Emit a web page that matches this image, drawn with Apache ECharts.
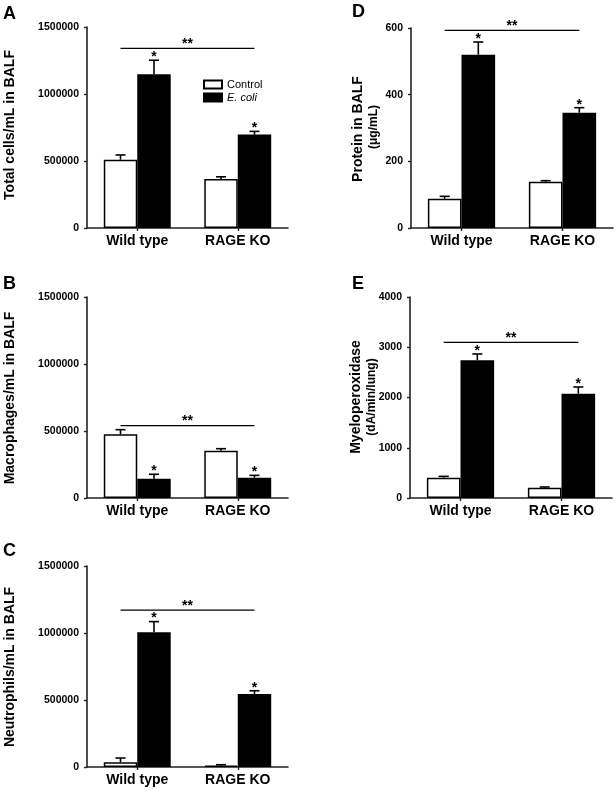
<!DOCTYPE html>
<html><head><meta charset="utf-8">
<script src="https://cdn.jsdelivr.net/npm/echarts@6/dist/echarts.min.js"></script>
<style>html,body{margin:0;padding:0;background:#fff}#c{width:616px;height:791px}</style>
</head><body><div id="c"></div>
<script>
const categories = ['Wild type', 'RAGE KO'];

// Panel A: Total cells/mL in BALF
const aControl = [510000, 365000];
const aControlErr = [545000, 382000];
const aEcoli = [1148000, 697000];
const aEcoliErr = [1252000, 721000];
const aSig = 1340000;

// Panel B: Macrophages/mL in BALF
const bControl = [475000, 353000];
const bControlErr = [510000, 368000];
const bEcoli = [144000, 152000];
const bEcoliErr = [177000, 169000];
const bSig = 540000;

// Panel C: Neutrophils/mL in BALF
const cControl = [35000, 10000];
const cControlErr = [67000, 17000];
const cEcoli = [1006000, 544000];
const cEcoliErr = [1085000, 569000];
const cSig = 1170000;

// Panel D: Protein in BALF (ug/mL)
const dControl = [88, 139];
const dControlErr = [95, 142];
const dEcoli = [520, 346];
const dEcoliErr = [558, 361];
const dSig = 593;

// Panel E: Myeloperoxidase (dA/min/lung)
const eControl = [405, 206];
const eControlErr = [431, 219];
const eEcoli = [2740, 2076];
const eEcoliErr = [2866, 2209];
const eSig = 3098;

const cellTicks = [0, 500000, 1000000, 1500000];
const proteinTicks = [0, 200, 400, 600];
const mpoTicks = [0, 1000, 2000, 3000, 4000];

const FONT = 'Liberation Sans, Arial, Helvetica, sans-serif';
const BAR_FRAC = 0.333;

const panels = [
  {ctrl: aControl, ctrlErr: aControlErr, eco: aEcoli, ecoErr: aEcoliErr, sig: aSig, ticks: cellTicks,
   grid: {left: 87, top: 27, width: 201, height: 201}},
  {ctrl: bControl, ctrlErr: bControlErr, eco: bEcoli, ecoErr: bEcoliErr, sig: bSig, ticks: cellTicks,
   grid: {left: 87, top: 297, width: 201, height: 201}},
  {ctrl: cControl, ctrlErr: cControlErr, eco: cEcoli, ecoErr: cEcoliErr, sig: cSig, ticks: cellTicks,
   grid: {left: 87, top: 566, width: 201, height: 201}},
  {ctrl: dControl, ctrlErr: dControlErr, eco: dEcoli, ecoErr: dEcoliErr, sig: dSig, ticks: proteinTicks,
   grid: {left: 411, top: 28, width: 202, height: 200}},
  {ctrl: eControl, ctrlErr: eControlErr, eco: eEcoli, ecoErr: eEcoliErr, sig: eSig, ticks: mpoTicks,
   grid: {left: 410, top: 297, width: 202, height: 201}}
];

function errRender(side, star) {
  return function (params, api) {
    const idx = api.value(0);
    const x = api.coord([idx, 0])[0];
    const band = api.size([1, 0])[0];
    const bw = band * BAR_FRAC;
    const cx = x + side * bw / 2;
    const yTop = api.coord([idx, api.value(1)])[1];
    const yErr = api.coord([idx, api.value(2)])[1];
    const cap = bw * 0.3;
    const children = [
      {type: 'line', shape: {x1: cx, y1: yTop, x2: cx, y2: yErr}, style: {stroke: '#000', lineWidth: 1.6}},
      {type: 'line', shape: {x1: cx - cap / 2, y1: yErr, x2: cx + cap / 2, y2: yErr}, style: {stroke: '#000', lineWidth: 1.6}}
    ];
    if (star) {
      children.push({type: 'text', style: {text: '*', x: cx, y: yErr + 4, align: 'center', verticalAlign: 'bottom',
        font: 'bold 14px ' + FONT, fill: '#000'}});
    }
    return {type: 'group', children: children};
  };
}

function sigRender(params, api) {
  const v = api.value(1);
  const band = api.size([1, 0])[0];
  const bw = band * BAR_FRAC;
  const p0 = api.coord([0, v]);
  const p1 = api.coord([1, v]);
  const xl = p0[0] - bw / 2;
  const xr = p1[0] + bw / 2;
  return {type: 'group', children: [
    {type: 'line', shape: {x1: xl, y1: p0[1], x2: xr, y2: p0[1]}, style: {stroke: '#000', lineWidth: 1.2}},
    {type: 'text', style: {text: '**', x: (xl + xr) / 2, y: p0[1] + 3, align: 'center', verticalAlign: 'bottom',
      font: 'bold 14px ' + FONT, fill: '#000'}}
  ]};
}

const grids = [], xAxes = [], yAxes = [], series = [];
panels.forEach((p, i) => {
  grids.push(p.grid);
  xAxes.push({
    type: 'category', gridIndex: i, data: categories,
    axisLine: {lineStyle: {color: '#222', width: 1.6}},
    axisTick: {show: true, alignWithLabel: true, length: 3, lineStyle: {color: '#222', width: 1.4}},
    axisLabel: {color: '#000', fontFamily: FONT, fontWeight: 'bold', fontSize: 14, margin: 6}
  });
  const t = p.ticks;
  yAxes.push({
    type: 'value', gridIndex: i, min: t[0], max: t[t.length - 1], interval: t[1] - t[0],
    splitLine: {show: false},
    axisLine: {show: true, lineStyle: {color: '#222', width: 1.6}},
    axisTick: {show: true, length: 3, lineStyle: {color: '#222', width: 1.4}},
    axisLabel: {color: '#000', fontFamily: FONT, fontWeight: 'bold', fontSize: 10.5, margin: 8,
      formatter: v => String(v)}
  });
  series.push({
    name: 'Control', type: 'bar', xAxisIndex: i, yAxisIndex: i, data: p.ctrl,
    barWidth: '33.3%', barGap: '0%',
    itemStyle: {color: '#fff', borderColor: '#000', borderWidth: 1.5}
  });
  series.push({
    name: 'E. coli', type: 'bar', xAxisIndex: i, yAxisIndex: i, data: p.eco,
    barWidth: '33.3%', barGap: '0%',
    itemStyle: {color: '#000', borderColor: '#000', borderWidth: 1.5}
  });
  series.push({
    type: 'custom', xAxisIndex: i, yAxisIndex: i, renderItem: errRender(-1, false), clip: false,
    data: p.ctrl.map((v, k) => [k, v, p.ctrlErr[k]]), z: 5
  });
  series.push({
    type: 'custom', xAxisIndex: i, yAxisIndex: i, renderItem: errRender(1, true), clip: false,
    data: p.eco.map((v, k) => [k, v, p.ecoErr[k]]), z: 5
  });
  series.push({
    type: 'custom', xAxisIndex: i, yAxisIndex: i, renderItem: sigRender, clip: false,
    data: [[0, p.sig]], z: 5
  });
});

function vtext(text, x, y, size, weight) {
  return {type: 'text', x: x, y: y, rotation: Math.PI / 2,
    style: {text: text, font: weight + ' ' + size + 'px ' + FONT, fill: '#000', align: 'center', verticalAlign: 'middle'}};
}
function letter(text, x, y) {
  return {type: 'text', x: x, y: y,
    style: {text: text, font: 'bold 18px ' + FONT, fill: '#000', align: 'left', verticalAlign: 'middle'}};
}

const chart = echarts.init(document.getElementById('c'), null, {renderer: 'canvas'});
chart.setOption({
  backgroundColor: '#fff',
  animation: false,
  grid: grids,
  xAxis: xAxes,
  yAxis: yAxes,
  legend: {
    data: ['Control', 'E. coli'], orient: 'vertical', left: 198, top: 74,
    itemWidth: 18, itemHeight: 8, itemGap: 2, icon: 'rect', selectedMode: false,
    textStyle: {fontFamily: FONT, fontSize: 11, color: '#000', rich: {i: {fontStyle: 'italic', fontFamily: FONT, fontSize: 11, color: '#000'}}},
    formatter: n => n === 'E. coli' ? '{i|E. coli}' : n
  },
  series: series,
  graphic: [
    letter('A', 3, 14), letter('B', 3, 284), letter('C', 3, 551), letter('D', 352, 12), letter('E', 352, 284),
    vtext('Total cells/mL in BALF', 10, 125, 14, 'bold'),
    vtext('Macrophages/mL in BALF', 10, 398, 14, 'bold'),
    vtext('Neutrophils/mL in BALF', 10, 667, 14, 'bold'),
    vtext('Protein in BALF', 358, 129, 14, 'bold'),
    vtext('(\u03bcg/mL)', 374, 127, 12, 'bold'),
    vtext('Myeloperoxidase', 356, 397, 14, 'bold'),
    vtext('(dA/min/lung)', 372, 397, 12, 'bold')
  ]
});
</script></body></html>
